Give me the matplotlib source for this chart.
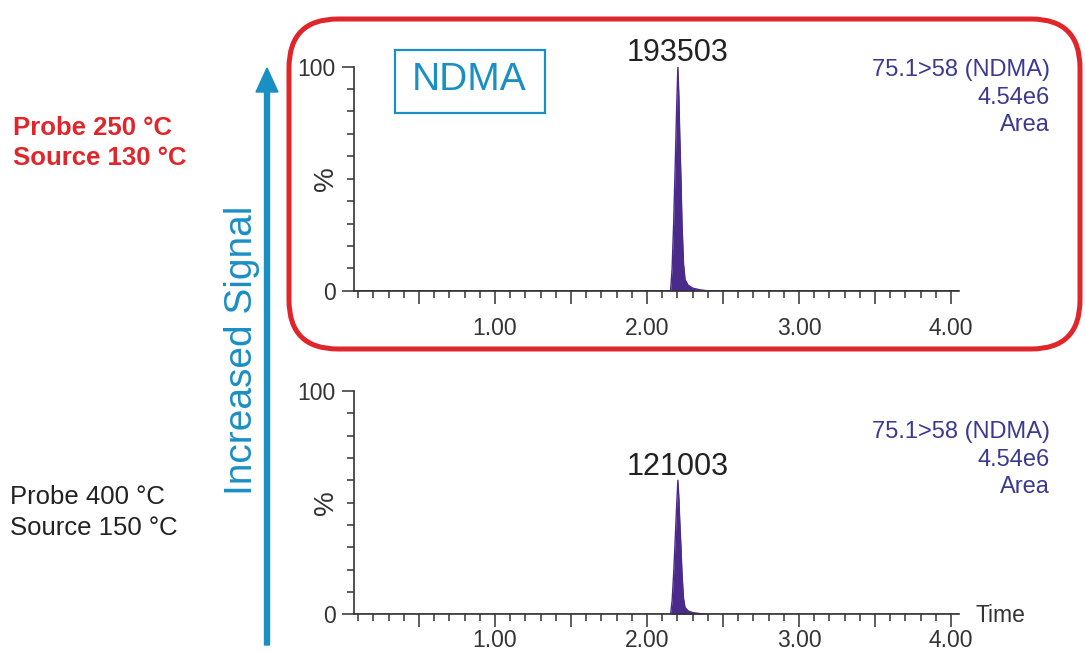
import matplotlib.pyplot as plt
from matplotlib.patches import FancyBboxPatch, Rectangle, FancyArrow
from matplotlib.ticker import MultipleLocator, FuncFormatter

plt.rcParams['font.family'] = ['Liberation Sans', 'DejaVu Sans']

# chromatogram traces (% of 4.54e6)
time_min = [0.07, 2.155, 2.165, 2.175, 2.185, 2.195, 2.203, 2.21, 2.215, 2.223,
            2.23, 2.24, 2.25, 2.27, 2.30, 2.35, 2.40, 4.05]
top_pct = [0, 0, 10, 30, 55, 82, 100, 85, 70, 50, 30, 12, 5, 2.5, 1.2, 0.4, 0, 0]
bottom_pct = [0, 0, 6, 18, 33, 49, 60, 51, 42, 30, 18, 7, 3, 1.5, 0.7, 0.25, 0, 0]

peak_labels = ['193503', '121003']
peak_time = 2.203
trace_info = ['75.1>58 (NDMA)', '4.54e6', 'Area']
conditions = [['Probe 250 °C', 'Source 130 °C'], ['Probe 400 °C', 'Source 150 °C']]
x_ticks = [1.0, 2.0, 3.0, 4.0]

purple = '#4a2a8a'
axis_col = '#333333'
info_col = '#3b3990'
blue = '#1a8fc4'
red = '#e0262b'

W, H = 1086, 652
fig = plt.figure(figsize=(W / 100, H / 100), dpi=100)

axes_pos = [[0.3257, 0.554, 0.5570, 0.344], [0.3257, 0.0580, 0.5570, 0.3423]]
series = [top_pct, bottom_pct]
label_pads = [10, 1.5]
info_top = [70, 432]

for i, pos in enumerate(axes_pos):
    ax = fig.add_axes(pos)
    ax.fill_between(time_min, series[i], color=purple, lw=0)
    ax.plot(time_min, series[i], color=purple, lw=1)
    ax.set_xlim(0.07, 4.05)
    ax.set_ylim(0, 100)
    for s in ['top', 'right']:
        ax.spines[s].set_visible(False)
    for s in ['left', 'bottom']:
        ax.spines[s].set_color(axis_col)
        ax.spines[s].set_linewidth(1.2)
    ax.xaxis.set_major_locator(MultipleLocator(0.5))
    ax.xaxis.set_minor_locator(MultipleLocator(0.1))
    ax.xaxis.set_major_formatter(FuncFormatter(
        lambda v, p: f'{v:.2f}' if any(abs(v - t) < 1e-6 for t in x_ticks) else ''))
    ax.set_yticks([0, 100])
    ax.yaxis.set_minor_locator(MultipleLocator(10))
    ax.tick_params(which='major', direction='out', length=9, width=1.1,
                   color=axis_col, labelcolor=axis_col, labelsize=16.5)
    ax.tick_params(which='minor', direction='out', length=5, width=1.1, color=axis_col)
    ax.tick_params(axis='x', which='major', pad=label_pads[i])
    ax.tick_params(axis='y', which='major', pad=4)
    ax.text(-0.046, 0.5, '%', transform=ax.transAxes, rotation=90,
            ha='center', va='center', fontsize=20, color=axis_col)

    # peak apex label
    ax.annotate(peak_labels[i], xy=(peak_time, max(series[i])), xytext=(0, 4),
                textcoords='offset points', ha='center', va='baseline',
                fontsize=22, color='#222222')

    # trace info, right side
    for k, line in enumerate(trace_info):
        fig.text(1050 / W, 1 - (info_top[i] + 27.5 * k) / H, line,
                 ha='right', va='center', fontsize=17, color=info_col)

# "Time" label
fig.text(975 / W, 1 - 616 / H, 'Time', ha='left', va='center', fontsize=16.5, color=axis_col)

# NDMA box
fig.patches.append(Rectangle((395 / W, 1 - 113 / H), 150 / W, 63 / H,
                             transform=fig.transFigure, fill=False, ec=blue, lw=1.6))
fig.text(469 / W, 1 - 80 / H, 'NDMA', ha='center', va='center', fontsize=28, color=blue)

# red rounded highlight box
fig.patches.append(FancyBboxPatch((289 / W, 1 - 349 / H), 791 / W, 330 / H,
                                  boxstyle='round,pad=0,rounding_size=0.045',
                                  transform=fig.transFigure, fill=False, ec=red, lw=3.6,
                                  mutation_aspect=W / H))

# increased signal arrow
fig.patches.append(FancyArrow(
    267 / W, 1 - 645 / H, 0, (645 - 68) / H, width=5 / W,
    head_width=22 / W, head_length=24 / H, length_includes_head=True,
    transform=fig.transFigure, color=blue))
fig.text(242 / W, 1 - 350 / H, 'Increased Signal', rotation=90,
         ha='center', va='center', fontsize=28, color=blue)

# conditions text
fig.text(13 / W, 1 - 128 / H, conditions[0][0], ha='left', va='center',
         fontsize=18.5, fontweight='bold', color=red)
fig.text(13 / W, 1 - 158 / H, conditions[0][1], ha='left', va='center',
         fontsize=18.5, fontweight='bold', color=red)
fig.text(10 / W, 1 - 497 / H, conditions[1][0], ha='left', va='center',
         fontsize=18.5, color='#222222')
fig.text(10 / W, 1 - 528 / H, conditions[1][1], ha='left', va='center',
         fontsize=18.5, color='#222222')

plt.savefig('out.png', dpi=100)
